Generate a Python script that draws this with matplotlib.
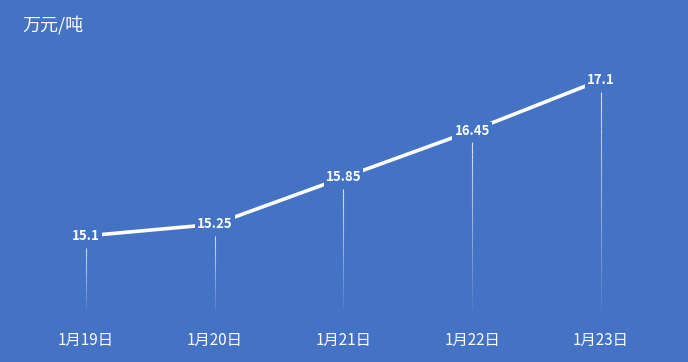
import numpy as np
import matplotlib
matplotlib.use("Agg")
from matplotlib import pyplot as plt

plt.rcParams['font.family'] = ['Noto Sans CJK SC', 'DejaVu Sans']

dates = ['1月19日', '1月20日', '1月21日', '1月22日', '1月23日']
prices = [15.1, 15.25, 15.85, 16.45, 17.1]
labels = ['15.1', '15.25', '15.85', '16.45', '17.1']

bg = '#4472C4'
ymin, ymax = 14.15, 17.51

fig = plt.figure(figsize=(6.88, 3.62), dpi=100)
fig.patch.set_facecolor(bg)
ax = fig.add_axes([0.0314, 0.1436, 0.9357, 0.7238])
ax.set_facecolor(bg)
ax.set_xlim(-0.5, 4.5)
ax.set_ylim(ymin, ymax)

x = np.arange(len(dates))
ax.plot(x, prices, color='white', lw=2.6, solid_capstyle='butt', zorder=2)

# drop lines fading toward the bottom
nseg = 30
for xi, yi in zip(x, prices):
    top = yi - 0.15
    edges = np.linspace(top, ymin, nseg + 1)
    for k in range(nseg):
        a = 0.75 * (1 - k / nseg) + 0.05
        ax.plot([xi, xi], [edges[k], edges[k + 1]], color='white', lw=0.8,
                alpha=a, solid_capstyle='butt', zorder=1)

for xi, yi, lab in zip(x, prices, labels):
    ax.text(xi, yi, lab, color='white', fontsize=9.5, fontweight='bold',
            ha='center', va='center', zorder=3,
            bbox=dict(facecolor=bg, edgecolor='none', pad=1.5))

ax.set_xticks(x)
ax.set_xticklabels(dates, color='white', fontsize=11)
ax.tick_params(axis='x', length=0, pad=16)
ax.set_yticks([])
for s in ax.spines.values():
    s.set_visible(False)

fig.text(22 / 688, 1 - 25 / 362, '万元/吨', color='white', fontsize=13,
         ha='left', va='center')

fig.savefig('out.png', dpi=100, facecolor=bg)
